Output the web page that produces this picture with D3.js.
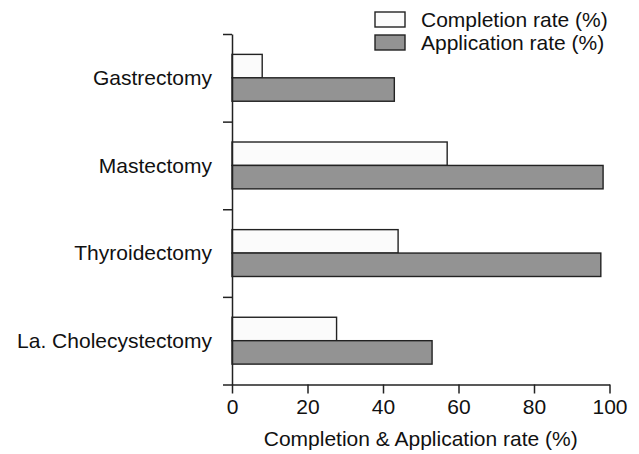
<!DOCTYPE html>
<html>
<head>
<meta charset="utf-8">
<script src="https://cdn.jsdelivr.net/npm/d3@7"></script>
<style>
  html, body { margin: 0; padding: 0; background: #fff; }
  svg { display: block; }
  text { font-family: "Liberation Sans", Arial, Helvetica, sans-serif; fill: #111; }
</style>
</head>
<body>
<svg id="chart" width="639" height="454"></svg>
<script>
const categories = ["Gastrectomy", "Mastectomy", "Thyroidectomy", "La. Cholecystectomy"];
const seriesNames = ["Completion rate (%)", "Application rate (%)"];
const completionRate = [8, 57, 44, 27.7];
const applicationRate = [43, 98.3, 97.7, 53];
const xTicks = [0, 20, 40, 60, 80, 100];
const xTitle = "Completion & Application rate (%)";

const seriesValues = [completionRate, applicationRate];
const fills = ["#fbfbfb", "#939393"];
const stroke = "#222";
const fs = "21px";

const svg = d3.select("#chart");
const mLeft = 232, mRight = 609.5, mTop = 34, mBottom = 384.5;

const x = d3.scaleLinear().domain([0, 100]).range([mLeft, mRight]);
const y = d3.scaleBand().domain(categories).range([mTop, mBottom]).paddingInner(0).paddingOuter(0);
const ySub = d3.scaleBand().domain(seriesNames).range([0, y.bandwidth()]).paddingInner(0).paddingOuter(0.87);
const yEdges = d3.scaleLinear().domain([0, categories.length]).range([mTop, mBottom]);

// bars
const data = [];
categories.forEach((c, i) => {
  seriesNames.forEach((s, j) => data.push({ c, s, j, v: seriesValues[j][i] }));
});
svg.append("g").selectAll("rect").data(data).join("rect")
  .attr("x", x(0))
  .attr("y", d => y(d.c) + ySub(d.s))
  .attr("width", d => x(d.v) - x(0))
  .attr("height", ySub.bandwidth())
  .attr("fill", d => fills[d.j])
  .attr("stroke", stroke)
  .attr("stroke-width", 1.4);

// x axis
const gx = svg.append("g").attr("transform", `translate(0,${mBottom})`)
  .call(d3.axisBottom(x).tickValues(xTicks).tickSize(9).tickPadding(6).tickSizeOuter(0));
gx.select(".domain").attr("stroke", stroke).attr("stroke-width", 1.5);
gx.selectAll(".tick line").attr("stroke", stroke).attr("stroke-width", 1.5);
gx.selectAll(".tick text").style("font-size", fs).style("font-family", "Liberation Sans, Arial, sans-serif").attr("fill", "#111");

// y axis (ticks at band edges)
const gy = svg.append("g").attr("transform", `translate(${mLeft},0)`)
  .call(d3.axisLeft(yEdges).tickValues(d3.range(categories.length + 1)).tickFormat("").tickSize(9).tickSizeOuter(0));
gy.select(".domain").attr("stroke", stroke).attr("stroke-width", 1.5);
gy.selectAll(".tick line").attr("stroke", stroke).attr("stroke-width", 1.5);

// category labels
svg.append("g").selectAll("text").data(categories).join("text")
  .attr("x", 212)
  .attr("y", d => y(d) + y.bandwidth() / 2)
  .attr("dy", "0.35em")
  .attr("text-anchor", "end")
  .style("font-size", fs)
  .text(d => d);

// x title
svg.append("text")
  .attr("x", (mLeft + mRight) / 2)
  .attr("y", 446)
  .attr("text-anchor", "middle")
  .style("font-size", fs)
  .text(xTitle);

// legend
const lg = svg.append("g");
seriesNames.forEach((s, j) => {
  const yy = 12 + j * 23;
  lg.append("rect").attr("x", 375).attr("y", yy).attr("width", 30).attr("height", 15)
    .attr("fill", fills[j]).attr("stroke", stroke).attr("stroke-width", 1.4);
  lg.append("text").attr("x", 421).attr("y", yy + 7.5).attr("dy", "0.35em")
    .style("font-size", fs).text(s);
});
</script>
</body>
</html>
